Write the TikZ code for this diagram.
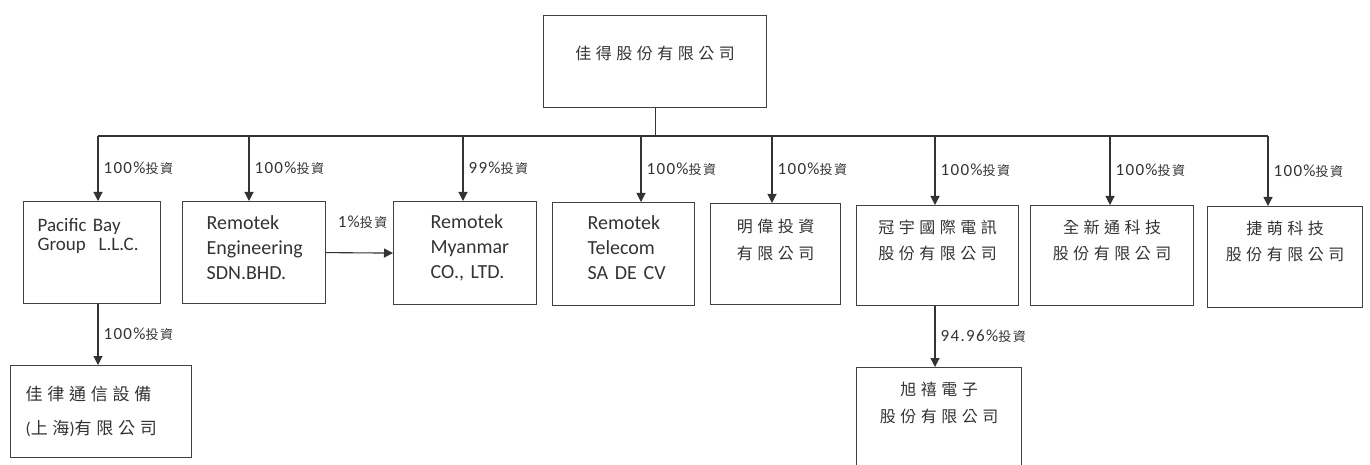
\documentclass[tikz,border=0pt]{standalone}
\usepackage{fontspec}
\setmainfont{Carlito}
\newfontfamily\cjk[LetterSpace=28]{Noto Sans CJK TC}
\newfontfamily\labcjk[LetterSpace=12]{Noto Sans CJK TC}
\newfontfamily\labnum[LetterSpace=8]{Carlito}
\usetikzlibrary{arrows.meta}
\newcommand{\inv}[1]{{\fontsize{17}{17}\labnum #1}{\fontsize{13}{13}\labcjk 投資}}
\tikzset{
  box/.style={draw=black!75, line width=1.2pt, anchor=north west, inner sep=0pt, text=black!80},
  latin/.style={align=left, font=\fontsize{20}{25}\selectfont},
  zh/.style={align=center, font=\fontsize{16}{26}\cjk},
  line/.style={draw=black!80, line width=1.1pt},
  arr/.style={line, -{Triangle[length=9pt,width=9pt]}},
  lab/.style={anchor=west, xshift=5pt, inner sep=0pt, text=black!80}
}
\begin{document}
\begin{tikzpicture}[x=1pt,y=-1pt]
	\useasboundingbox (0,0) rectangle (1370,465);
	\node[box, zh, text width=223pt, text height=44pt, text depth=48pt] (top) at (543,15) {佳得股份有限公司};
	\node[box, latin, inner xsep=14pt, text width=109pt, text height=30pt, text depth=72pt, font=\fontsize{19}{19}\selectfont] (pacific) at (23,201) {Pacific Bay\\Group~~L.L.C.};
	\node[box, latin, inner xsep=24pt, text width=95pt, text height=28pt, text depth=74pt] (engineering) at (182,201) {Remotek\\Engineering\\SDN.BHD.};
	\node[box, latin, inner xsep=37pt, text width=69pt, text height=27pt, text depth=76pt] (myanmar) at (393,201) {Remotek\\Myanmar\\CO.,~LTD.};
	\node[box, latin, inner xsep=35pt, text width=72pt, text height=27pt, text depth=76pt] (telecom) at (552,202) {Remotek\\Telecom\\SA~DE~CV};
	\node[box, zh, text width=130pt, text height=29pt, text depth=72pt, font=\fontsize{16}{27}\cjk] (mingwei) at (710,203) {明偉投資\\有限公司};
	\node[box, zh, text width=162pt, text height=28pt, text depth=72pt] (guanyu) at (856,205) {冠宇國際電訊\\股份有限公司};
	\node[box, zh, text width=163pt, text height=28pt, text depth=72pt] (quanxin) at (1030,205) {全新通科技\\股份有限公司};
	\node[box, zh, text width=155pt, text height=28pt, text depth=73pt] (jiemeng) at (1207,206) {捷萌科技\\股份有限公司};
	\node[box, align=left, inner xsep=15pt, text width=151pt, text height=35pt, text depth=57pt, font=\fontsize{17}{34}\cjk] (jialu) at (10,365) {佳律通信設備\\{\rmfamily(}上海{\rmfamily)}有限公司};
	\node[box, zh, text width=165pt, text height=28pt, text depth=82pt, font=\fontsize{16}{27}\cjk] (xuxi) at (856,367) {旭禧電子\\股份有限公司};
	\foreach \x/\child/\pct in {98/pacific/100, 249/engineering/100, 463/myanmar/99, 641/telecom/100, 772/mingwei/100, 935/guanyu/100, 1110/quanxin/100, 1268/jiemeng/100}{
		\coordinate (t-\child) at (\x,136);
		\draw[arr] (t-\child) -- node[lab]{\inv{\pct\%}} (t-\child |- \child.north);
	}
	\draw[line] (t-pacific) -- (t-jiemeng);
	\draw[line] (top.south) -- (top.south |- t-pacific);
	\draw[arr] (engineering.east) -- node[lab, anchor=south, xshift=-2pt, yshift=24pt]{\inv{1\%}} (myanmar.west);
	\draw[arr] (t-pacific |- pacific.south) -- node[lab]{\inv{100\%}} (t-pacific |- jialu.north);
	\draw[arr] (t-guanyu |- guanyu.south) -- node[lab]{\inv{94.96\%}} (t-guanyu |- xuxi.north);
\end{tikzpicture}
\end{document}
